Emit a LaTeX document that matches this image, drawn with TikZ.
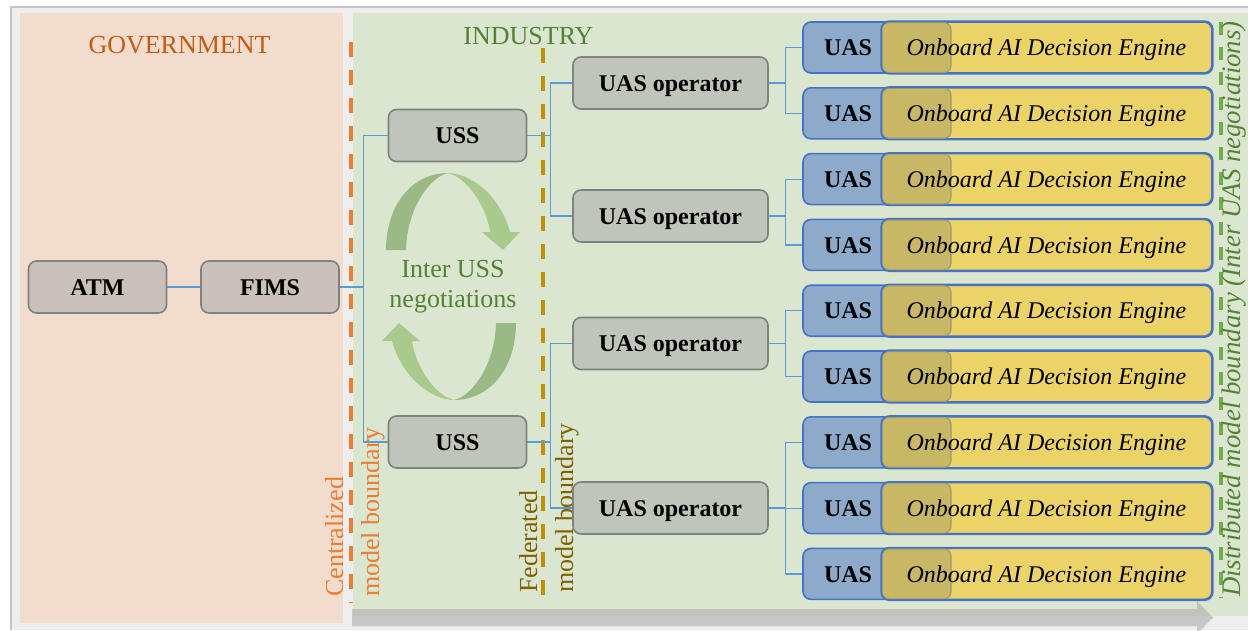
\documentclass[tikz,border=0pt]{standalone}
\usepackage{fontspec}
\setmainfont{Liberation Serif}
\definecolor{framebg}{HTML}{EEEEEE}
\definecolor{framegray}{HTML}{C4C4C4}
\definecolor{govpanel}{HTML}{F2DCCD}
\definecolor{indpanel}{HTML}{DBE6D1}
\definecolor{govnode}{HTML}{CAC0BA}
\definecolor{indnode}{HTML}{C0C5BA}
\definecolor{boxedge}{HTML}{808080}
\definecolor{uasfill}{HTML}{8EAACA}
\definecolor{uasedge}{HTML}{4472C4}
\definecolor{aifill}{HTML}{EBD367}
\definecolor{overlapfill}{HTML}{C8B865}
\definecolor{overlapedge}{HTML}{A09A70}
\definecolor{connblue}{HTML}{5B9BD5}
\definecolor{govtext}{HTML}{C55A11}
\definecolor{indtext}{HTML}{548235}
\definecolor{centorange}{HTML}{ED7D31}
\definecolor{fedgold}{HTML}{BF9000}
\definecolor{fedtext}{HTML}{7F6000}
\definecolor{distgreen}{HTML}{70AD47}
\definecolor{loopdark}{HTML}{9AB984}
\definecolor{looplight}{HTML}{A8CB8D}
\definecolor{flowgray}{HTML}{ABABAB}
\begin{document}
\begin{tikzpicture}[x=1pt,y=-1pt,
  capcentre/.style={text height=16.5pt, text depth=0pt},
  govbox/.style={draw=boxedge, fill=govnode, line width=1.6pt, rounded corners=8pt,
    minimum width=138pt, minimum height=52pt, inner sep=0pt, capcentre,
    font=\fontsize{24}{28}\selectfont\bfseries},
  indbox/.style={govbox, fill=indnode},
  opbox/.style={indbox, minimum width=195pt},
  uasbox/.style={draw=uasedge, fill=uasfill, line width=1.6pt, rounded corners=8pt,
    minimum width=148pt, minimum height=51pt, inner sep=0pt},
  aibox/.style={draw=uasedge, fill=aifill, line width=1.6pt, rounded corners=8pt,
    minimum width=330pt, minimum height=51pt, inner sep=0pt},
  uaslabel/.style={inner sep=0pt, capcentre, font=\fontsize{24}{28}\selectfont\bfseries},
  ailabel/.style={inner sep=0pt, capcentre, font=\fontsize{24}{28}\selectfont\itshape},
  conn/.style={draw=connblue, line width=1.2pt},
  boundary/.style={line width=4pt, dash pattern=on 15pt off 13pt},
  paneltitle/.style={anchor=base, inner sep=0pt, font=\fontsize{26}{30}\selectfont},
  sidelabel/.style={rotate=90, anchor=west, inner sep=0pt, align=left,
    font=\fontsize{26}{36}\selectfont}
]
\useasboundingbox (0,0) rectangle (1248,630);
\fill[white] (0,0) rectangle (1248,630);

% frame and the two domain panels
\fill[framebg] (11,8) rectangle (1248,630);
\draw[framegray, line width=2pt] (11,630) -- (11,7) -- (1248,7);
\fill[govpanel] (20,13) rectangle (343,623);
\fill[indpanel] (353,13) rectangle (1248,616);

% decentralisation arrow along the bottom
\fill[flowgray, fill opacity=0.58] (352,609) -- (1197,609) -- (1197,601) -- (1213,617.5)
  -- (1197,634) -- (1197,626) -- (352,626) -- cycle;

% panel titles
\node[paneltitle, text=govtext] (govtitle) at (179.5,53) {GOVERNMENT};
\node[paneltitle, text=indtext] (indtitle) at (528.5,44) {INDUSTRY};

% model boundaries
\draw[boundary, centorange] (350.5,42) -- (350.5,603);
\draw[boundary, fedgold] (543,48) -- (543,596);
\draw[line width=4pt, dash pattern=on 13pt off 12pt, distgreen] (1220.5,22) -- (1220.5,598);

\node[sidelabel, text=centorange] (centlabel) at (355,597) {Centralized\\model boundary};
\node[sidelabel, text=fedtext] (fedlabel) at (549,593) {Federated\\model boundary};
\node[rotate=90, anchor=west, inner sep=0pt, text=indtext,
  font=\fontsize{26.8}{30}\selectfont\itshape] (distlabel) at (1234,597)
  {Distributed model boundary (Inter UAS negotiations)};

% inter-USS negotiation loop
\foreach \r in {0,180} {
  \begin{scope}[rotate around={\r:(451,286.5)}]
    \fill[loopdark] (386,250) .. controls (386,205) and (412,173) .. (448,173)
      .. controls (430,177) and (407,208) .. (406,250) -- cycle;
    \fill[looplight] (448,173) .. controls (470,173) and (500,195) .. (510,232)
      -- (520,232) -- (503,250) -- (482,232) -- (490,232)
      .. controls (487,208) and (468,178) .. (448,173) -- cycle;
  \end{scope}
}
\node[align=center, inner sep=0pt, text=indtext,
  font=\fontsize{26}{30}\selectfont] (negtext) at (453,286.5) {Inter USS\\negotiations};

% hierarchy
\node[govbox] (atm) at (97.5,287) {ATM};
\node[govbox] (fims) at (270,287) {FIMS};
\node[indbox] (uss1) at (457.5,135.5) {USS};
\node[indbox] (uss2) at (457.5,442) {USS};
\node[opbox] (op1) at (670.5,83) {UAS operator};
\node[opbox] (op2) at (670.5,216) {UAS operator};
\node[opbox] (op3) at (670.5,343.5) {UAS operator};
\node[opbox] (op4) at (670.5,508) {UAS operator};

\foreach \i/\yy in {1/47.5, 2/113.3, 3/179.1, 4/244.9, 5/310.7, 6/376.5, 7/442.3, 8/508.1, 9/573.9} {
  \node[uasbox] (uas\i) at (877,\yy) {};
  \node[aibox] (ai\i) at (1047,\yy) {};
  \filldraw[fill=overlapfill, draw=overlapedge, line width=1.2pt, rounded corners=7pt]
    (882,\yy-25) rectangle (951,\yy+25);
  \draw[uasedge, line width=1.6pt, rounded corners=8pt]
    (ai\i.south west) rectangle (ai\i.north east);
  \node[uaslabel] (uaslbl\i) at (848,\yy) {UAS};
  \node[ailabel] (ailbl\i) at (1046.5,\yy) {Onboard AI Decision Engine};
}

% connectors
\draw[conn] (atm.east) -- (fims.west);
\draw[conn] (fims.east) -- ++(24,0) |- (uss1.west);
\draw[conn] (fims.east) -- ++(24,0) |- (uss2.west);
\draw[conn] (uss1.east) -- ++(23,0) |- (op1.west);
\draw[conn] (uss1.east) -- ++(23,0) |- (op2.west);
\draw[conn] (uss2.east) -- ++(23,0) |- (op3.west);
\draw[conn] (uss2.east) -- ++(23,0) |- (op4.west);
\draw[conn] (op1.east) -- ++(17,0) |- (uas1.west);
\draw[conn] (op1.east) -- ++(17,0) |- (uas2.west);
\draw[conn] (op2.east) -- ++(17,0) |- (uas3.west);
\draw[conn] (op2.east) -- ++(17,0) |- (uas4.west);
\draw[conn] (op3.east) -- ++(17,0) |- (uas5.west);
\draw[conn] (op3.east) -- ++(17,0) |- (uas6.west);
\draw[conn] (op4.east) -- ++(17,0) |- (uas7.west);
\draw[conn] (op4.east) -- ++(17,0) |- (uas8.west);
\draw[conn] (op4.east) -- ++(17,0) |- (uas9.west);
\end{tikzpicture}
\end{document}
